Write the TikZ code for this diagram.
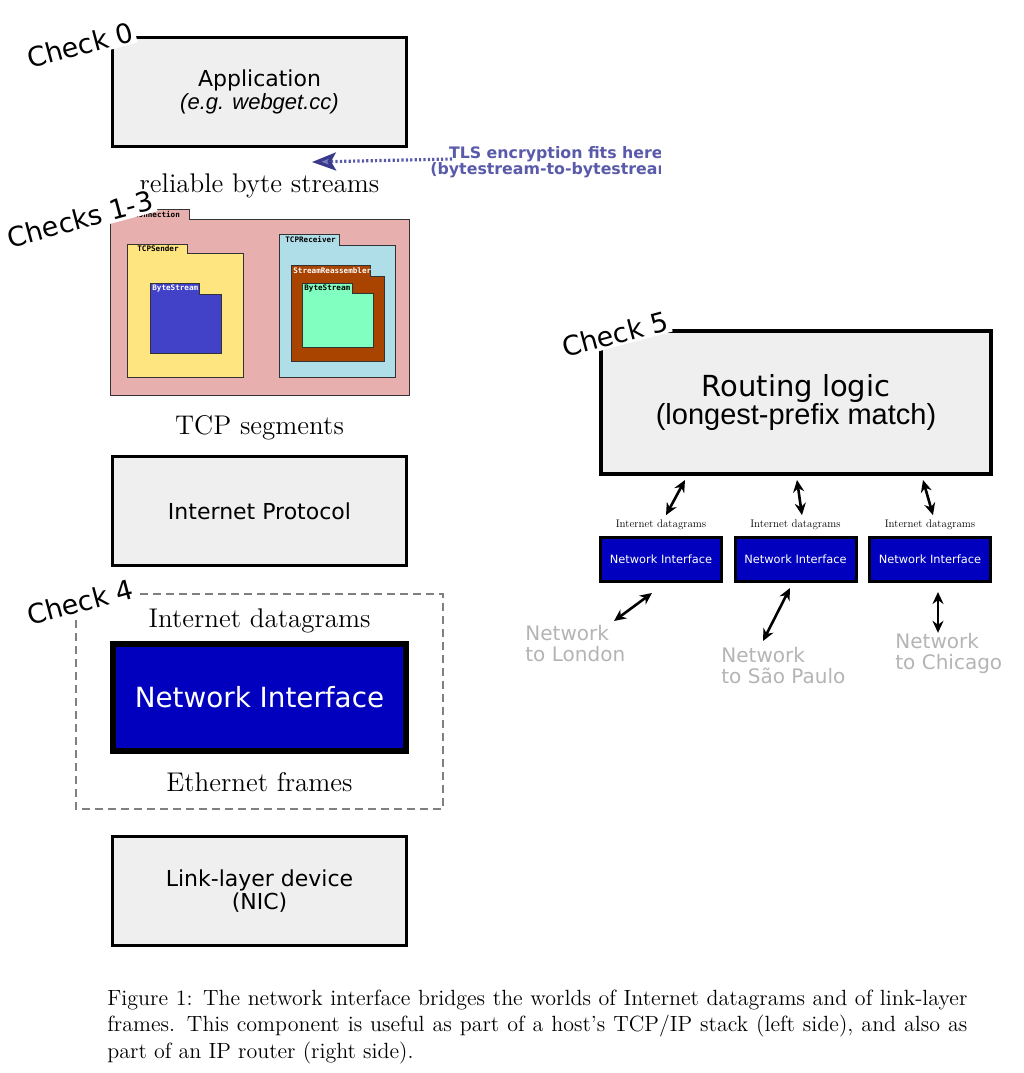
\documentclass[tikz,border=0pt]{standalone}
\usepackage{fontspec}
\newfontfamily\dejavu{DejaVu Sans}
\newfontfamily\libsans{Liberation Sans}
\newfontfamily\dejamono{DejaVu Sans Mono}
\usepackage{tikz}
\usetikzlibrary{arrows.meta,calc,positioning}

\definecolor{boxgray}{HTML}{EFEFEF}
\definecolor{niblue}{HTML}{0000BE}
\definecolor{tlsblue}{HTML}{5A5AAA}
\definecolor{tlsdark}{HTML}{3A3A8C}
\definecolor{netgray}{HTML}{B4B4B4}
\definecolor{connpink}{HTML}{E8AFAF}
\definecolor{senderyellow}{HTML}{FFE580}
\definecolor{sbsblue}{HTML}{4242C8}
\definecolor{recvblue}{HTML}{B0DEE8}
\definecolor{reasmbrown}{HTML}{A84300}
\definecolor{rbsgreen}{HTML}{80FFC0}

\begin{document}
\begin{tikzpicture}[
  x=0.5pt, y=-0.5pt,
  >={Stealth[length=6pt,width=5.5pt]},
  layer/.style={draw, line width=1.5pt, fill=boxgray, minimum width=147pt, minimum height=54.5pt,
    align=center, font=\dejavu\fontsize{11}{11.5}\selectfont},
  nibig/.style={draw, line width=3pt, fill=niblue, text=white, minimum width=146.5pt, minimum height=53.5pt,
    font=\dejavu\fontsize{13.9}{15}\selectfont},
  nismall/.style={draw, line width=1.5pt, fill=niblue, text=white, minimum width=60.5pt, minimum height=22pt,
    inner sep=0pt, font=\dejavu\fontsize{5.7}{6}\selectfont},
  router/.style={draw, line width=2pt, fill=boxgray, minimum width=195pt, minimum height=71.5pt,
    align=center, font=\dejavu\fontsize{14.5}{14}\selectfont},
  serif/.style={anchor=base, font=\fontsize{13.5}{15}\selectfont},
  dgram/.style={anchor=base, inner sep=2pt, scale=0.5, font=\fontsize{11}{12}\selectfont},
  checklabel/.style={rotate=15, fill=white, inner sep=1pt, font=\dejavu\fontsize{13.5}{14}\selectfont},
  pkg/.style={draw=black!80, line width=0.5pt},
  pkglabel/.style={anchor=west, inner sep=0pt, font=\dejamono\bfseries\fontsize{3.8}{4}\selectfont},
  netlabel/.style={anchor=north west, inner sep=0pt, align=left, text=netgray,
    font=\dejavu\fontsize{10}{10.5}\selectfont},
  link/.style={<->, line width=1.3pt},
  tlsnote/.style={anchor=north west, inner sep=0pt, align=center, text=tlsblue,
    font=\dejavu\bfseries\fontsize{7.9}{8}\selectfont}
]
\useasboundingbox (0,0) rectangle (1024,1073);

% --- host stack (left) ---
\node[layer] (app) at (259.5,92) {Application\\{\libsans\itshape (e.g. webget.cc)}};
\node[serif] (bytes) at (259.5,192) {reliable byte streams};

% TCPConnection and the packages inside it
\foreach \nm/\xa/\ta/\xt/\ya/\xb/\yb/\col/\lx/\txt/\tc in {
  conn/110/209/189/219/409/395/connpink/120/TCPConnection/black,
  sender/127/244/187/253/243/377/senderyellow/137/TCPSender/black,
  sbs/150/283/199/294/221/353/sbsblue/152/ByteStream/white,
  recv/279/234/339/245/395/377/recvblue/285/TCPReceiver/black,
  reasm/291/265/370/276/384/361/reasmbrown/293/StreamReassembler/white,
  rbs/302/283/352/293/373/347/rbsgreen/304/ByteStream/black} {
  \filldraw[pkg, fill=\col] (\xa,\ta) -- (\xt,\ta) -- (\xt,\ya) -- (\xb,\ya) -- (\xb,\yb) -- (\xa,\yb) -- cycle;
  \node[pkglabel, text=\tc] (\nm) at (\lx,{(\ta+\ya)/2}) {\txt};
}

\node[serif] (segs) at (259.5,434) {TCP segments};
\node[layer] (ip) at (259.5,511) {Internet Protocol};

% --- check 4 frame ---
\draw[gray, line width=1pt, dash pattern=on 4pt off 2.5pt] (76,594) rectangle (443,809);
\node[serif] (dgleft) at (259.5,627) {Internet datagrams};
\node[nibig] (ni) at (259.5,697.5) {Network Interface};
\node[serif] (frames) at (259.5,791) {Ethernet frames};

\node[layer] (nic) at (259.5,891) {Link-layer device\\(NIC)};

% --- TLS note ---
\begin{scope}
  \clip (300,130) rectangle (660,185);
  \node[tlsnote] (tls) at (430,146) {TLS encryption fits here\\(bytestream-to-bytestream)};
\end{scope}
\coordinate (tlsfrom) at (452,159);
\coordinate (tlstip) at (312,162);
\draw[tlsblue, line width=1.6pt, dash pattern=on 1.1pt off 1.1pt,
  -{Stealth[length=12pt,width=9pt,inset=2.5pt,color=tlsdark,fill=tlsblue!80]}]
  (tlsfrom) -- (tlstip);

% --- router (right) ---
\node[router] (route) at (796,402.5) {Routing logic\\{\libsans (longest-prefix match)}};

\foreach \i/\x in {1/661,2/795.5,3/930} {
  \node[nismall] (ni\i) at (\x,559.5) {Network Interface};
  \node[dgram] (dg\i) at (\x,527) {Internet datagrams};
}

\foreach \i/\a/\b in {1/-55.5/2.5, 2/0.5/3.25, 3/63.5/1.5}
  \draw[link] ([xshift=\a pt,yshift=-2pt]route.south) -- ([xshift=\b pt,yshift=1pt]dg\i.north);

\node[netlabel] (london) at (525,624.8) {Network\\to London};
\node[netlabel] (saopaulo) at (721,646.8) {Network\\to São Paulo};
\node[netlabel] (chicago) at (895,632.8) {Network\\to Chicago};

\draw[link] ([xshift=-4.5pt,yshift=-5pt]ni1.south) -- ([xshift=44.5pt,yshift=1.9pt]london.north west);
\draw[link] ([xshift=-2.75pt,yshift=-2.5pt]ni2.south) -- ([xshift=21pt,yshift=2.9pt]saopaulo.north west);
\draw[link] ([xshift=4pt,yshift=-4.5pt]ni3.south) -- ([xshift=21.5pt]chicago.north west);

% --- check labels ---
\node[checklabel] (check0) at (80,45) {Check 0};
\node[checklabel] (check13) at (80,219) {Checks 1-3};
\node[checklabel] (check4) at (80,602) {Check 4};
\node[checklabel] (check5) at (615,334) {Check 5};

% --- caption ---
\node[anchor=north west, inner sep=0pt, text width=430pt, align=justify,
  font=\fontsize{11}{13.2}\selectfont] (caption) at (107,989.5)
  {Figure 1: The network interface bridges the worlds of Internet datagrams and of link-layer\linebreak
   frames. This component is useful as part of a host's TCP/IP stack (left side), and also as\linebreak
   part of an IP router (right side).};

\end{tikzpicture}
\end{document}
